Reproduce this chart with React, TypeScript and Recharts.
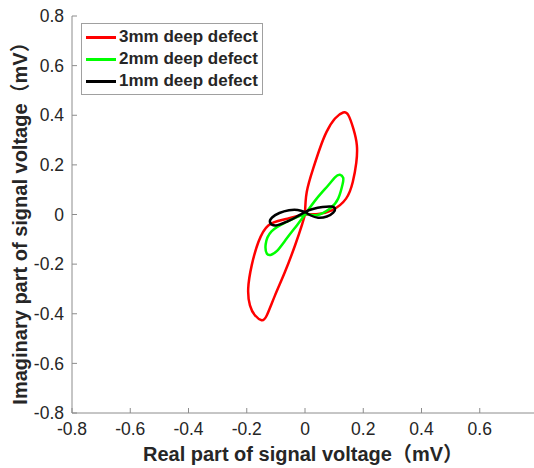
import { LineChart, Line, XAxis, YAxis, Legend, Label } from "recharts";

const FONT = '"Liberation Sans", Arial, "Noto Sans CJK SC", sans-serif';
const AXIS_COLOR = "#8c8c8c";
const TEXT_COLOR = "#262626";

const xTicks = [-0.8, -0.6, -0.4, -0.2, 0, 0.2, 0.4, 0.6, 0.8];
const yTicks = [-0.8, -0.6, -0.4, -0.2, 0, 0.2, 0.4, 0.6, 0.8];

const defect3mm = [
  { x: 0, y: 0 }, { x: 0.006, y: 0.091 }, { x: 0.028, y: 0.185 }, { x: 0.051, y: 0.266 },
  { x: 0.074, y: 0.333 }, { x: 0.103, y: 0.387 }, { x: 0.131, y: 0.411 }, { x: 0.149, y: 0.4 },
  { x: 0.166, y: 0.346 }, { x: 0.178, y: 0.28 }, { x: 0.176, y: 0.208 }, { x: 0.164, y: 0.131 },
  { x: 0.141, y: 0.064 }, { x: 0.092, y: 0.017 }, { x: 0.038, y: 0.001 }, { x: 0, y: 0 },
  { x: -0.069, y: -0.019 }, { x: -0.126, y: -0.044 }, { x: -0.16, y: -0.111 }, { x: -0.183, y: -0.205 },
  { x: -0.195, y: -0.299 }, { x: -0.189, y: -0.366 }, { x: -0.172, y: -0.406 }, { x: -0.149, y: -0.426 },
  { x: -0.131, y: -0.406 }, { x: -0.103, y: -0.326 }, { x: -0.069, y: -0.232 }, { x: -0.034, y: -0.124 },
  { x: -0.011, y: -0.044 }, { x: 0, y: 0 },
];

const defect2mm = [
  { x: 0, y: 0 }, { x: 0.04, y: 0.064 }, { x: 0.08, y: 0.118 }, { x: 0.103, y: 0.15 },
  { x: 0.12, y: 0.16 }, { x: 0.131, y: 0.148 }, { x: 0.129, y: 0.122 }, { x: 0.114, y: 0.064 },
  { x: 0.086, y: 0.024 }, { x: 0.04, y: -0.003 }, { x: 0, y: 0 }, { x: -0.063, y: -0.03 },
  { x: -0.115, y: -0.068 }, { x: -0.135, y: -0.12 }, { x: -0.131, y: -0.158 }, { x: -0.118, y: -0.163 },
  { x: -0.097, y: -0.148 }, { x: -0.063, y: -0.097 }, { x: -0.028, y: -0.044 }, { x: 0, y: 0 },
];

const defect1mm = [
  { x: 0, y: 0.01 }, { x: 0.02, y: -0.004 }, { x: 0.045, y: -0.013 }, { x: 0.075, y: -0.008 },
  { x: 0.097, y: 0.008 }, { x: 0.103, y: 0.024 }, { x: 0.09, y: 0.032 }, { x: 0.06, y: 0.03 },
  { x: 0.027, y: 0.022 }, { x: 0, y: 0.01 }, { x: -0.033, y: -0.012 }, { x: -0.065, y: -0.03 },
  { x: -0.1, y: -0.044 }, { x: -0.12, y: -0.032 }, { x: -0.113, y: -0.012 }, { x: -0.088, y: 0.006 },
  { x: -0.055, y: 0.017 }, { x: -0.025, y: 0.018 }, { x: 0, y: 0.01 },
];

const series = [
  { name: "3mm deep defect", color: "#ff0000", data: defect3mm },
  { name: "2mm deep defect", color: "#00ff00", data: defect2mm },
  { name: "1mm deep defect", color: "#000000", data: defect1mm },
];

const BottomTick = ({ x, y, payload }: any) => (
  <g>
    <line x1={x} x2={x} y1={y} y2={y - 5} stroke={AXIS_COLOR} />
    {payload.value < 0.7 && (
      <text x={x} y={y + 22} textAnchor="middle" fontSize={17.5} fill={TEXT_COLOR} fontFamily={FONT}>
        {String(payload.value)}
      </text>
    )}
  </g>
);

const TopTick = ({ x, y }: any) => <line x1={x} x2={x} y1={y} y2={y + 5} stroke={AXIS_COLOR} />;

const LeftTick = ({ x, y, payload }: any) => (
  <g>
    <line x1={x} x2={x + 5} y1={y} y2={y} stroke={AXIS_COLOR} />
    <text x={x - 8} y={y} dy="0.35em" textAnchor="end" fontSize={17.5} fill={TEXT_COLOR} fontFamily={FONT}>
      {String(payload.value)}
    </text>
  </g>
);

const renderLegend = () => (
  <div
    style={{
      border: "1px solid #a0a0a0",
      background: "#fff",
      padding: "2px 4px 2px 4px",
      fontFamily: FONT,
      fontWeight: "bold",
      fontSize: 17,
      color: TEXT_COLOR,
      lineHeight: "22px",
    }}
  >
    {series.map((s) => (
      <div key={s.name} style={{ display: "flex", alignItems: "center", whiteSpace: "nowrap" }}>
        <span style={{ width: 30, height: 3, background: s.color, marginRight: 3, display: "inline-block" }} />
        <span>{s.name}</span>
      </div>
    ))}
  </div>
);

export default function App() {
  return (
    <div
      style={{
        position: "absolute",
        left: 0,
        top: 0,
        width: 534,
        height: 468,
        overflow: "hidden",
        background: "#fff",
      }}
    >
      <LineChart width={560} height={468} margin={{ top: 16, right: 22, bottom: 0, left: 0 }}>
        <XAxis
          xAxisId="top"
          orientation="top"
          type="number"
          dataKey="x"
          domain={[-0.8, 0.8]}
          ticks={xTicks}
          height={0}
          tickSize={0}
          tickMargin={0}
          tick={<TopTick />}
          axisLine={{ stroke: AXIS_COLOR }}
          tickLine={false}
          allowDataOverflow
        />
        <XAxis
          type="number"
          dataKey="x"
          domain={[-0.8, 0.8]}
          ticks={xTicks}
          height={55}
          tickSize={0}
          tickMargin={0}
          tick={<BottomTick />}
          axisLine={{ stroke: AXIS_COLOR }}
          tickLine={false}
          interval={0}
          allowDataOverflow
        >
          <Label
            content={(props: any) => {
              const vb = props.viewBox;
              return (
                <text
                  x={vb.x + vb.width / 2 - 2}
                  y={461}
                  textAnchor="middle"
                  fontSize={20}
                  fontWeight="bold"
                  fill={TEXT_COLOR}
                  fontFamily={FONT}
                >
                  Real part of signal voltage（mV）
                </text>
              );
            }}
          />
        </XAxis>
        <YAxis
          type="number"
          domain={[-0.8, 0.8]}
          ticks={yTicks}
          width={72}
          tickSize={0}
          tickMargin={0}
          tick={<LeftTick />}
          axisLine={{ stroke: AXIS_COLOR }}
          tickLine={false}
          interval={0}
          allowDataOverflow
        >
          <Label
            content={(props: any) => {
              const vb = props.viewBox;
              const cy = vb.y + vb.height / 2 + 4;
              return (
                <text
                  transform={`translate(27,${cy}) rotate(-90)`}
                  textAnchor="middle"
                  fontSize={20}
                  fontWeight="bold"
                  fill={TEXT_COLOR}
                  fontFamily={FONT}
                >
                  Imaginary part of signal voltage（mV）
                </text>
              );
            }}
          />
        </YAxis>
        <Legend
          layout="vertical"
          align="center"
          verticalAlign="middle"
          content={renderLegend}
          wrapperStyle={{ position: "absolute", left: 81, top: 23, width: "auto", height: "auto" }}
        />
        {series.map((s) => (
          <Line
            key={s.name}
            data={s.data}
            dataKey="y"
            name={s.name}
            type="natural"
            stroke={s.color}
            strokeWidth={2.5}
            dot={false}
            activeDot={false}
            isAnimationActive={false}
          />
        ))}
      </LineChart>
    </div>
  );
}
